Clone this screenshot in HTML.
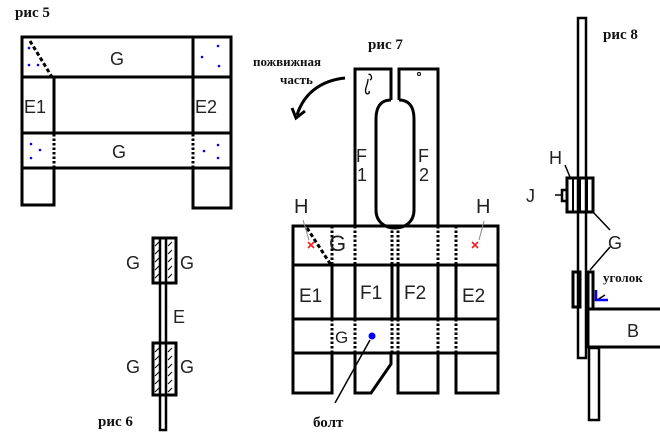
<!DOCTYPE html>
<html><head><meta charset="utf-8"><style>
html,body{margin:0;padding:0;background:#fff;}
svg{display:block}
.s{font-family:"Liberation Sans",sans-serif;fill:#222}
.r{font-family:"Liberation Serif","DejaVu Serif",serif;font-weight:bold;fill:#111}
</style></head><body>
<svg width="660" height="437" viewBox="0 0 660 437" xmlns="http://www.w3.org/2000/svg">
<g fill="none" stroke="#000" stroke-width="3">
<!-- fig5 -->
<rect x="22" y="37" width="209" height="131"/>
<line x1="22" y1="77" x2="231" y2="77"/>
<line x1="22" y1="133" x2="231" y2="133"/>
<line x1="54" y1="77" x2="54" y2="133"/>
<line x1="193" y1="37" x2="193" y2="133"/>
<path d="M22 168 V205 H54 V168 M193 168 V208 H231 V168"/>
<path d="M30 41 L52 77" stroke-dasharray="4 2.5"/>
<path d="M54 134 V167 M193 134 V167" stroke-dasharray="2.5 2"/>
<!-- fig6 -->
<rect x="160" y="238" width="6" height="192" stroke-width="2.5"/>
<rect x="153" y="238" width="23" height="45"/>
<rect x="153" y="343" width="23" height="52"/>
<!-- fig7 top -->
<path d="M391 100 V69 H355 V227 M399 100 V69 H438 V227"/>
<path d="M391 100 C380 100 376 108 376 119 V210 C376 222 385 228 395 228 C405 228 414 222 414 210 V119 C414 108 410 100 399 100"/>
<!-- fig7 grid -->
<rect x="293" y="226" width="205" height="127"/>
<line x1="293" y1="265" x2="498" y2="265"/>
<line x1="293" y1="319" x2="498" y2="319"/>
<path d="M332 265 V319 M355 265 V319 M392 265 V319 M398 265 V319 M438 265 V319 M456 265 V319"/>
<path d="M332 226 V265 M332 319 V353 M355 226 V265 M355 319 V353 M392 226 V265 M392 319 V353 M398 226 V265 M398 319 V353 M438 226 V265 M438 319 V353 M456 226 V265 M456 319 V353" stroke-dasharray="2.5 2"/>
<path d="M307 228 L331 265" stroke-dasharray="4 2.5"/>
<path d="M293 353 V393 H332 V353 M355 353 V393 H371 L391 364 V353 M398 353 V393 H438 V353 M456 353 V393 H498 V353"/>
<!-- fig8 -->
<rect x="578" y="18" width="8" height="340" stroke-width="2.5"/>
<rect x="589" y="348" width="10" height="72" stroke-width="2.5"/>
<path d="M588 309 H660 M588 309 V347 H660"/>
<rect x="567" y="178" width="26" height="34"/>
<path d="M573 178 V212 M580 178 V212 M587 178 V212" stroke-width="2"/>
<rect x="562" y="190" width="5" height="11" stroke-width="2.5"/>
<rect x="573" y="272" width="7" height="35"/>
<rect x="588" y="272" width="5" height="37"/>
</g>
<!-- hatch fig6 -->
<g stroke="#000" stroke-width="1">
<path d="M155 246 l4 -4 M155 254 l4 -4 M155 262 l4 -4 M155 270 l4 -4 M155 278 l4 -4 M168 246 l4 -4 M168 254 l4 -4 M168 262 l4 -4 M168 270 l4 -4 M168 278 l4 -4"/>
<path d="M155 352 l4 -4 M155 360 l4 -4 M155 368 l4 -4 M155 376 l4 -4 M155 384 l4 -4 M155 392 l4 -4 M168 352 l4 -4 M168 360 l4 -4 M168 368 l4 -4 M168 376 l4 -4 M168 384 l4 -4 M168 392 l4 -4"/>
</g>
<!-- dots fig5 -->
<g fill="#00f">
<circle cx="29" cy="48" r="1.3"/><circle cx="29" cy="65" r="1.3"/><circle cx="38" cy="65" r="1.3"/>
<circle cx="218" cy="46" r="1.3"/><circle cx="202" cy="57" r="1.3"/><circle cx="219" cy="66" r="1.3"/>
<circle cx="31" cy="144" r="1.3"/><circle cx="40" cy="150" r="1.3"/><circle cx="31" cy="158" r="1.3"/>
<circle cx="218" cy="145" r="1.3"/><circle cx="204" cy="151" r="1.3"/><circle cx="218" cy="158" r="1.3"/>
<circle cx="372" cy="336" r="3.5"/>
</g>
<g stroke="#000" stroke-width="1.5" fill="none">
<path d="M370 340 L335 403"/>
<path d="M345 78 C325 80 305 90 297 115" stroke-width="3"/>
<path d="M292 108 L296 118 L305 111" stroke-width="3"/>
<path d="M370 80 c4 -2 -1 -8 -1 -5 M368 79 c0 6 -4 10 -2 14 c2 2 4 0 3 -2" stroke-width="1.3"/>
<circle cx="419" cy="74" r="1.5" stroke-width="1"/>
<path d="M565 165 L570 177 M555 195 H561 M593 212 L610 230 M590 270 L610 247 M597 300 L605 295" stroke-width="1.5"/>
</g>
<g stroke="#888" stroke-width="1"><path d="M303 220 L309 240 M484 221 L479 240"/></g>
<path d="M596 290 V300 H608" fill="none" stroke="#00f" stroke-width="2.5"/>
<g stroke="#e22" stroke-width="1.6"><path d="M308 242 l6 6 m0 -6 l-6 6 M472 242 l6 6 m0 -6 l-6 6"/></g>
<!-- texts -->
<text class="r" x="15" y="17" font-size="15">рис 5</text>
<text class="s" x="110" y="65" font-size="18">G</text>
<text class="s" x="24" y="113" font-size="18">E1</text>
<text class="s" x="195" y="113" font-size="18">E2</text>
<text class="s" x="112" y="158" font-size="18">G</text>
<text class="s" x="126" y="269" font-size="18">G</text>
<text class="s" x="180" y="269" font-size="18">G</text>
<text class="s" x="173" y="323" font-size="18">E</text>
<text class="s" x="126" y="373" font-size="18">G</text>
<text class="s" x="180" y="373" font-size="18">G</text>
<text class="r" x="98" y="426" font-size="15">рис 6</text>
<text class="r" x="368" y="49" font-size="15">рис 7</text>
<text class="r" x="253" y="66" font-size="13">пожвижная</text>
<text class="r" x="280" y="84" font-size="13">часть</text>
<text class="s" x="356" y="162" font-size="18">F</text>
<text class="s" x="357" y="181" font-size="18">1</text>
<text class="s" x="418" y="162" font-size="18">F</text>
<text class="s" x="419" y="181" font-size="18">2</text>
<text class="s" x="294" y="213" font-size="20">H</text>
<text class="s" x="476" y="213" font-size="20">H</text>
<text class="s" x="329" y="251" font-size="22">G</text>
<text class="s" x="299" y="302" font-size="19">E1</text>
<text class="s" x="360" y="299" font-size="19">F1</text>
<text class="s" x="404" y="299" font-size="19">F2</text>
<text class="s" x="462" y="302" font-size="19">E2</text>
<text class="s" x="335" y="343" font-size="17">G</text>
<text class="r" x="313" y="427" font-size="15" font-weight="normal">болт</text>
<text class="r" x="603" y="39" font-size="15">рис 8</text>
<text class="s" x="549" y="164" font-size="18">H</text>
<text class="s" x="526" y="202" font-size="18">J</text>
<text class="s" x="608" y="249" font-size="18">G</text>
<text class="r" x="603" y="282" font-size="13">уголок</text>
<text class="s" x="627" y="337" font-size="18">B</text>
</svg>
</body></html>
